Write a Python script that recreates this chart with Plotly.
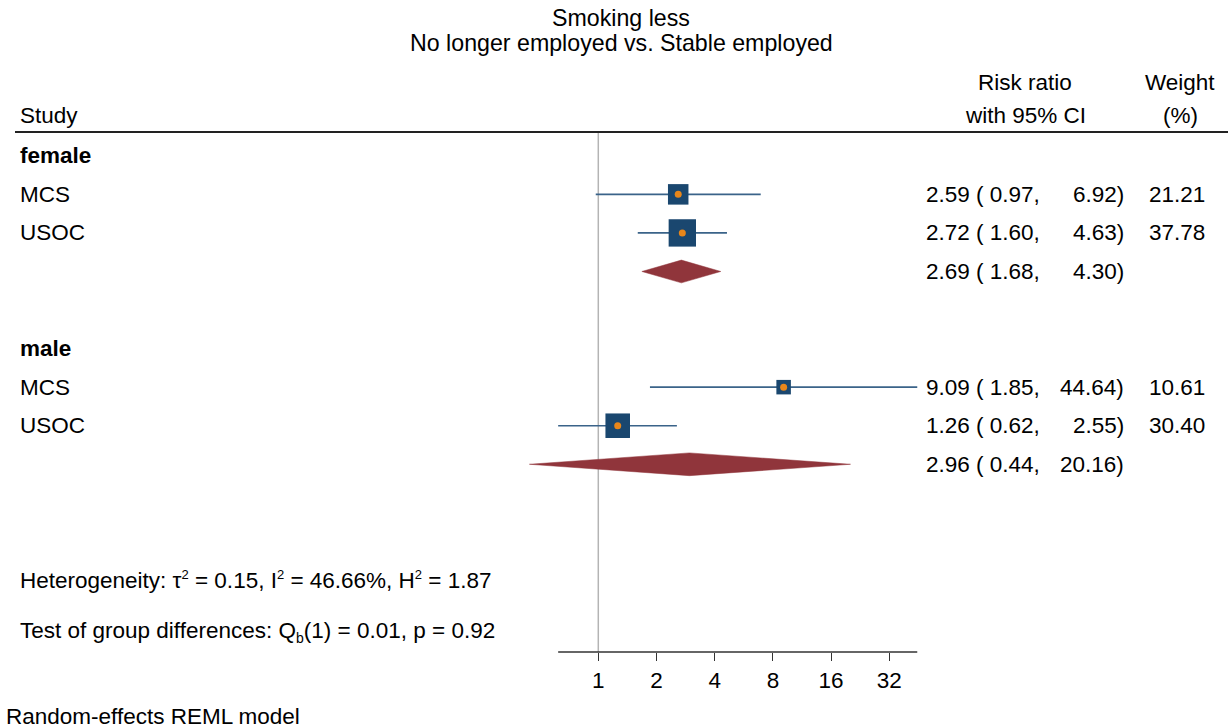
import plotly.graph_objects as go
import math

# ---------------- data ----------------
groups = ["female", "male"]
group_rows = [0, 5]
studies = ["MCS", "USOC", "MCS", "USOC"]
study_rows = [1, 2, 6, 7]
est = [2.59, 2.72, 9.09, 1.26]
lo = [0.97, 1.60, 1.85, 0.62]
hi = [6.92, 4.63, 44.64, 2.55]
weight = [21.21, 37.78, 10.61, 30.40]
sum_rows = [3, 8]
sum_est = [2.69, 2.96]
sum_lo = [1.68, 0.44]
sum_hi = [4.30, 20.16]
tick_vals = [1, 2, 4, 8, 16, 32]
tick_text = ["1", "2", "4", "8", "16", "32"]

W, H = 1229, 728
FONT = "Liberation Sans, Arial, sans-serif"
FS = 22.5
NAVY = "#1a476f"
CI_COL = "#3a6389"
ORANGE = "#e8861a"
CRAN = "#90353b"

# pixel helper for layout-only positions (text, header lines)
def px(x):
    return x / W
def py(y):
    return 1 - y / H

fig = go.Figure()

# CI lines
cx, cy = [], []
for l, h, r in zip(lo, hi, study_rows):
    cx += [l, h, None]
    cy += [r, r, None]
fig.add_trace(go.Scatter(x=cx, y=cy, mode="lines",
                         line=dict(color=CI_COL, width=1.6), hoverinfo="skip"))

# weight squares
fig.add_trace(go.Scatter(x=est, y=study_rows, mode="markers",
                         marker=dict(symbol="square", color=NAVY, opacity=1,
                                     size=[4.45 * w ** 0.5 for w in weight],
                                     line=dict(width=0))))
# point estimates
fig.add_trace(go.Scatter(x=est, y=study_rows, mode="markers",
                         marker=dict(symbol="circle", color=ORANGE, size=7, opacity=1,
                                     line=dict(width=0))))

# diamonds
dh = 0.295
for e, l, h, r in zip(sum_est, sum_lo, sum_hi, sum_rows):
    fig.add_trace(go.Scatter(x=[l, e, h, e, l], y=[r, r - dh, r, r + dh, r],
                             mode="lines", fill="toself", fillcolor=CRAN,
                             line=dict(color=CRAN, width=0.5), hoverinfo="skip"))

# reference line at 1 and x axis line
axis_k = (652 - 155.8) / 38.56
top_k = (132 - 155.8) / 38.56
fig.add_shape(type="line", xref="x", yref="y", x0=1, x1=1, y0=top_k, y1=axis_k,
              line=dict(color="#b4b4b4", width=1.5), layer="below")
fig.add_shape(type="line", xref="x", yref="y", x0=min(lo), x1=max(hi),
              y0=axis_k, y1=axis_k, line=dict(color="#333333", width=1.4))
# header rule
fig.add_shape(type="line", xref="paper", yref="paper", x0=px(15), x1=px(1228),
              y0=py(132), y1=py(132), line=dict(color="#222222", width=2))

ann = []
def txt(x, y, s, xanchor="left", bold=False, yref="y", size=FS):
    ann.append(dict(x=x, y=y, xref="paper", yref=yref,
                    text=("<b>%s</b>" % s) if bold else s,
                    showarrow=False, xanchor=xanchor, yanchor="middle",
                    font=dict(family=FONT, size=size, color="black")))

L = px(18)     # left-aligned text start (compensates annotation padding)
C2 = px(924)
R2 = px(1126)
R3 = px(1207)

# title
txt(px(621), py(18), "Smoking less", "center", yref="paper", size=23.2)
txt(px(621), py(43), "No longer employed vs. Stable employed", "center", yref="paper", size=23.2)
# column headers
txt(L, py(116), "Study", yref="paper")
txt(px(1025), py(82), "Risk ratio", "center", yref="paper")
txt(px(1025), py(115), "with 95% CI", "center", yref="paper")
txt(px(1180), py(82), "Weight", "center", yref="paper")
txt(px(1180), py(115), "(%)", "center", yref="paper")

for g, r in zip(groups, group_rows):
    txt(L, r, g, bold=True)
for s, r, e, l, h, w in zip(studies, study_rows, est, lo, hi, weight):
    txt(L, r, s)
    txt(C2, r, "%.2f ( %.2f," % (e, l))
    txt(R2, r, "%.2f)" % h, "right")
    txt(R3, r, "%.2f" % w, "right")
for r, e, l, h in zip(sum_rows, sum_est, sum_lo, sum_hi):
    txt(C2, r, "%.2f ( %.2f," % (e, l))
    txt(R2, r, "%.2f)" % h, "right")

SUP = "<sup><span style='font-size:13px'>2</span></sup>"
txt(L, py(580), "Heterogeneity: τ" + SUP + " = 0.15, I" + SUP + " = 46.66%, H" + SUP + " = 1.87", yref="paper")
txt(L, py(632), "Test of group differences: Q<sub><span style='font-size:14px'>b</span></sub>(1) = 0.01, p = 0.92", yref="paper")
txt(px(4), py(716), "Random-effects REML model", yref="paper")

k0 = -155.8 / 38.56
k1 = (H - 155.8) / 38.56
lx0 = (-598.3 / 58.2) * math.log10(2)
lx1 = ((W - 598.3) / 58.2) * math.log10(2)

fig.update_layout(
    width=W, height=H, margin=dict(l=0, r=0, t=0, b=0),
    paper_bgcolor="white", plot_bgcolor="white", showlegend=False,
    annotations=ann,
    xaxis=dict(type="log", range=[lx0, lx1], domain=[0, 1], anchor="free",
               position=1 - 652 / H, showline=False, showgrid=False, zeroline=False,
               tickmode="array", tickvals=tick_vals, ticktext=tick_text,
               ticks="outside", ticklen=8, tickwidth=1.4, tickcolor="#333333",
               tickfont=dict(family=FONT, size=FS, color="black")),
    yaxis=dict(range=[k1, k0], domain=[0, 1], visible=False, showgrid=False,
               zeroline=False),
)

fig.write_html("out.html", config={"displayModeBar": False},
               post_script="document.body.style.margin='0';")
